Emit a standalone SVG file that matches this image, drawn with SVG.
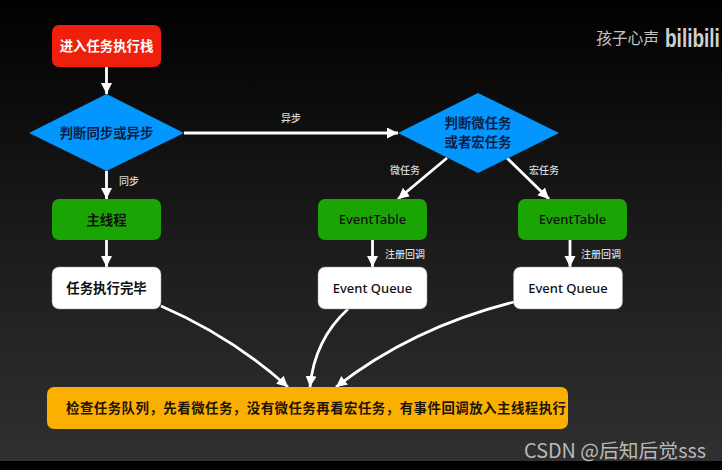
<svg xmlns="http://www.w3.org/2000/svg" width="722" height="470" viewBox="0 0 722 470">
<defs>
<linearGradient id="bg" x1="0" y1="0" x2="0" y2="1"><stop offset="0" stop-color="#010101"/><stop offset="0.5" stop-color="#1a1a1a"/><stop offset="1" stop-color="#303030"/></linearGradient>
<marker id="ah" markerUnits="userSpaceOnUse" markerWidth="13" markerHeight="14" refX="11" refY="5.500" orient="auto"><path d="M0 0L11 5.500L0 11Z" fill="#fff"/></marker>
</defs>
<style>
text{font-family:"Noto Sans CJK SC","Liberation Sans",sans-serif;text-anchor:middle}
.n{font-size:13.400px;font-weight:700}
.e{font-size:13px;font-weight:500;font-family:"Noto Sans","Noto Sans CJK SC",sans-serif}
.l{font-size:10px;fill:#d8d8d8;font-weight:500}
.c{fill:none;stroke:#fff;stroke-width:2.800;marker-end:url(#ah)}
.w{fill:#fff;stroke:#999;stroke-width:.5}
.g{fill:#1aa505}
.k{fill:#111}
.b{fill:#0396ff}
.bt{fill:#0c1f45}
</style>
<rect width="722" height="461" fill="url(#bg)"/>
<rect y="461" width="722" height="9" fill="#000"/>
<g id="connectors">
<path class="c" d="M106.500 67V94"/>
<path class="c" d="M106.500 171V199"/>
<path class="c" d="M106.500 240V267"/>
<path class="c" d="M184 133H398"/>
<path class="c" d="M447 158L398 199"/>
<path class="c" d="M507 158L549 199"/>
<path class="c" d="M372.500 240V267"/>
<path class="c" d="M570 240V267"/>
<path class="c" d="M161 306C205 325 250 353 288 387"/>
<path class="c" d="M348 309C325 330 313 355 310 387"/>
<path class="c" d="M514 302C450 318 390 345 336 387"/>
</g>
<g id="n-start"><rect x="52" y="25" width="109" height="42" rx="7" fill="#ee1f0d"/><text class="n" x="106.500" y="51" fill="#fff">进入任务执行栈</text></g>
<g id="n-sync"><path class="b" d="M29 133L106.500 94L184 133L106.500 171Z"/><text class="n bt" x="106.500" y="138">判断同步或异步</text></g>
<g id="n-main"><rect class="g" x="52" y="199" width="109" height="41" rx="7"/><text class="n k" x="106.500" y="225">主线程</text></g>
<g id="n-done"><rect class="w" x="52" y="267" width="109" height="42" rx="7"/><text class="n k" x="106.500" y="293">任务执行完毕</text></g>
<g id="n-kind"><path class="b" d="M398 133L478 93L559 133L478 173Z"/><text class="n bt" x="478" y="128">判断微任务</text><text class="n bt" x="478" y="147">或者宏任务</text></g>
<g id="n-table1"><rect class="g" x="318" y="199" width="109" height="41" rx="7"/><text class="e k" x="372.500" y="224">EventTable</text></g>
<g id="n-table2"><rect class="g" x="518" y="199" width="109" height="41" rx="7"/><text class="e k" x="572.500" y="224">EventTable</text></g>
<g id="n-queue1"><rect class="w" x="318" y="267" width="109" height="42" rx="7"/><text class="e k" x="372.500" y="293">Event Queue</text></g>
<g id="n-queue2"><rect class="w" x="513.500" y="267" width="109" height="42" rx="7"/><text class="e k" x="568" y="293">Event Queue</text></g>
<g id="n-check"><rect x="47" y="387" width="521" height="42" rx="7" fill="#fbaf00"/><text class="n" x="316" y="413" fill="#1d1503" textLength="500">检查任务队列，先看微任务，没有微任务再看宏任务，有事件回调放入主线程执行</text></g>
<g id="labels">
<text class="l" x="291" y="122">异步</text>
<text class="l" x="129" y="185">同步</text>
<text class="l" x="405" y="174">微任务</text>
<text class="l" x="544" y="174">宏任务</text>
<text class="l" x="405" y="258">注册回调</text>
<text class="l" x="601" y="258">注册回调</text>
</g>
<text x="627.500" y="44" font-size="15.700" fill="#c4c4c4">孩子心声</text>
<text transform="translate(665 47) scale(1 1.400)" font-size="19" font-weight="700" fill="#cfcfcf" style="text-anchor:start;font-family:'Liberation Sans',sans-serif">bilibili</text>
<text x="615" y="458" font-size="19.800" fill="#b9b9b9">CSDN @后知后觉sss</text>
</svg>
